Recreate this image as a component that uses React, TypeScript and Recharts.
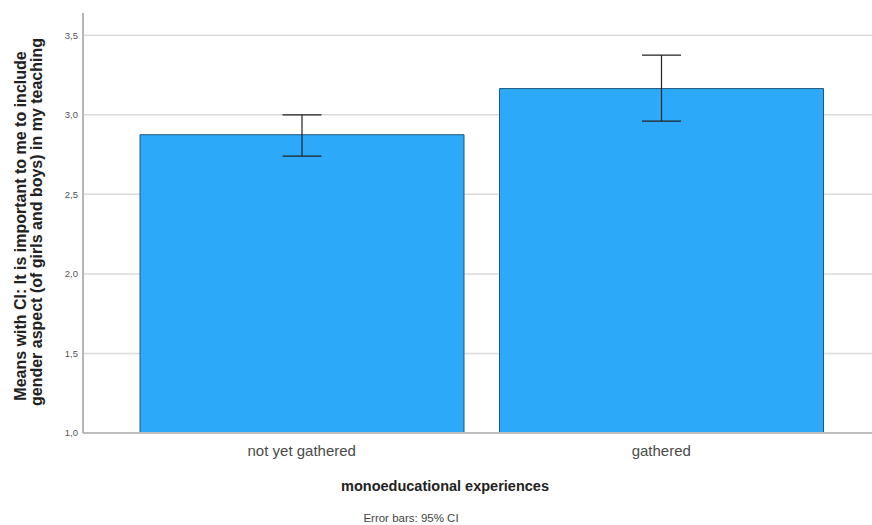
import React from "react";
import {
  ComposedChart,
  Bar,
  ErrorBar,
  XAxis,
  YAxis,
  CartesianGrid,
} from "recharts";

// group means with 95% confidence limits
const categories = ["not yet gathered", "gathered"];
const means = [2.875, 3.165];
const ciLow = [2.74, 2.96];
const ciHigh = [3.0, 3.375];
const yTicks = [1.0, 1.5, 2.0, 2.5, 3.0, 3.5];

const data = categories.map((name, i) => ({
  name,
  mean: means[i],
  ci: [means[i] - ciLow[i], ciHigh[i] - means[i]],
}));

const FONT = "'Liberation Sans', Arial, sans-serif";

const fmt = (v: number) => v.toFixed(1).replace(".", ",");

export default function App() {
  return (
    <div
      style={{
        position: "absolute",
        left: 0,
        top: 0,
        width: 872,
        height: 525,
        background: "#fff",
        fontFamily: FONT,
      }}
    >
      <ComposedChart
        width={872}
        height={525}
        data={data}
        margin={{ top: 13, right: 0, bottom: 62, left: 0 }}
      >
        <CartesianGrid
          vertical={false}
          horizontalValues={yTicks}
          stroke="#dadada"
          strokeWidth={1.5}
        />
        <XAxis
          dataKey="name"
          height={30}
          padding={{ left: 39, right: 31 }}
          axisLine={{ stroke: "#bdbdbd", strokeWidth: 2 }}
          tickLine={false}
          tickMargin={6}
          tick={{ fill: "#4a4a4a", fontSize: 15, fontFamily: FONT }}
        />
        <YAxis
          width={83}
          domain={[1, 3.64]}
          ticks={yTicks}
          tickFormatter={fmt}
          allowDataOverflow
          axisLine={{ stroke: "#b5b5b5", strokeWidth: 2 }}
          tickLine={false}
          tickSize={3}
          tickMargin={2}
          tick={{ fill: "#555", fontSize: 9.5, fontFamily: FONT }}
        />
        <Bar
          dataKey="mean"
          barSize={324}
          fill="#2ca9f9"
          stroke="#24577d"
          strokeWidth={1}
          isAnimationActive={false}
        >
          <ErrorBar
            dataKey="ci"
            direction="y"
            width={19.5}
            stroke="#222"
            strokeWidth={1.2}
          />
        </Bar>
      </ComposedChart>
      <svg
        width={872}
        height={525}
        style={{ position: "absolute", left: 0, top: 0, pointerEvents: "none" }}
      >
        <g fontFamily={FONT} fontWeight="bold" fill="#222" fontSize={16}>
          <text
            transform="translate(20,226) rotate(-90)"
            textAnchor="middle"
            dominantBaseline="central"
          >
            Means with CI: It is important to me to include
          </text>
          <text
            transform="translate(36,222) rotate(-90)"
            textAnchor="middle"
            dominantBaseline="central"
          >
            gender aspect (of girls and boys) in my teaching
          </text>
        </g>
        <text
          x={445}
          y={486}
          textAnchor="middle"
          dominantBaseline="central"
          fontFamily={FONT}
          fontWeight="bold"
          fontSize={14.5}
          fill="#222"
        >
          monoeducational experiences
        </text>
        <text
          x={411}
          y={518}
          textAnchor="middle"
          dominantBaseline="central"
          fontFamily={FONT}
          fontSize={11.5}
          fill="#444"
        >
          Error bars: 95% CI
        </text>
      </svg>
    </div>
  );
}
